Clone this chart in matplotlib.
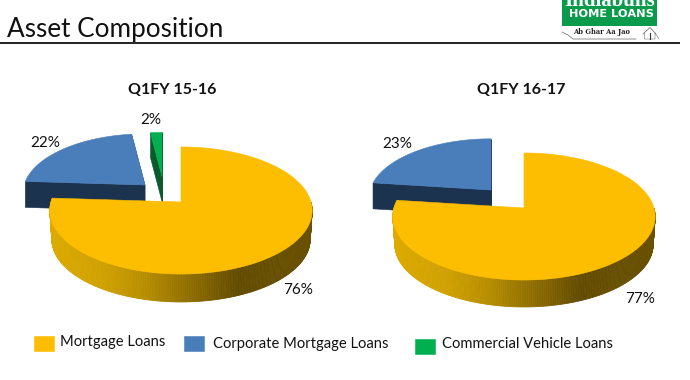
import numpy as np
import matplotlib
matplotlib.use("Agg")
import matplotlib.pyplot as plt
from matplotlib.patches import Rectangle, Polygon
from matplotlib.colors import LinearSegmentedColormap

plt.rcParams['font.family'] = ['Lato', 'DejaVu Sans']

categories = ["Mortgage Loans", "Corporate Mortgage Loans", "Commercial Vehicle Loans"]
period_titles = ["Q1FY 15-16", "Q1FY 16-17"]
values_q1_1516 = [76, 22, 2]
values_q1_1617 = [77, 23, 0]
chart_title = "Asset Composition"

YEL, BLU, GRN = "#FDBD00", "#4A7EBB", "#00B050"
BLU_D, GRN_D = "#1C3350", "#0B5A2C"
side_cmap = LinearSegmentedColormap.from_list("side", [
    (0.00, "#DCAA00"), (0.20, "#CFA000"), (0.35, "#B98F00"),
    (0.60, "#7F6100"), (0.72, "#624B00"), (1.00, "#6A5100")])

fig = plt.figure(figsize=(6.9, 3.8), dpi=100)
ax = fig.add_axes([0, 0, 1, 1])
ax.set_xlim(0, 690)
ax.set_ylim(380, 0)
ax.axis("off")

RX, RY, K = 130.0, 62.4, 0.134


def rim(theta):
    X, Y = np.sin(theta), np.cos(theta)
    w = 1 + K * Y
    return RX * X / w, -RY * Y / w


def wedge(ax0, ay0, t0, t1, scale=1.0):
    th = np.linspace(t0, t1, 120)
    x, y = rim(th)
    return ax0 + scale * x, ay0 + scale * y


def exploded(ax0, ay0, t0, t1, depth, top, dark, z, scale):
    x, y = wedge(ax0, ay0, t0, t1, scale)
    for px, py in ((x[0], y[0]), (x[-1], y[-1])):
        sx = np.r_[ax0, px]
        sy = np.r_[ay0, py]
        ax.add_patch(Polygon(np.c_[np.r_[sx, sx[::-1]],
                                   np.r_[sy, sy[::-1] + depth]],
                             fc=dark, ec=dark, lw=0.4, zorder=z))
    ax.add_patch(Polygon(np.c_[np.r_[ax0, x], np.r_[ay0, y]],
                         fc=top, ec=top, lw=0.4, zorder=z + 1))


def pie(values, cx, cy, depth, apexes):
    total = sum(values)
    fr = np.cumsum([0] + list(values)) / total * 2 * np.pi
    exploded(*apexes[0], fr[1], fr[2], 26, BLU, BLU_D, 2, 0.93)
    if values[2] > 0:
        exploded(*apexes[1], fr[2], fr[3], 25, GRN, GRN_D, 4, 0.8)
    th = np.linspace(np.pi * 0.5, fr[1], 260)
    for a, b in zip(th[:-1], th[1:]):
        xa, ya = rim(np.array([a, b]))
        xb, yb = xa * 0.985, ya * 0.985 + depth
        c = side_cmap(np.clip((xa.mean() + RX) / (2 * RX), 0, 1))
        ax.add_patch(Polygon(np.c_[cx + np.r_[xa, xb[::-1]],
                                   cy + np.r_[ya, yb[::-1]]],
                             fc=c, ec=c, lw=0.5, zorder=6))
    x, y = wedge(cx, cy, 0, fr[1])
    ax.add_patch(Polygon(np.c_[np.r_[cx, x], np.r_[cy, y]],
                         fc=YEL, ec=YEL, lw=0.4, zorder=8))


pie(values_q1_1516, 181, 202, 29, [(145, 185), (162, 176.5)])
pie(values_q1_1617, 524, 208, 28, [(491, 190)])

ax.text(172.5, 90.5, period_titles[0], fontsize=11.5, fontweight="bold", ha="center", va="center", color="#111111")
ax.text(521.5, 90.5, period_titles[1], fontsize=11.5, fontweight="bold", ha="center", va="center", color="#111111")

lab = dict(fontsize=11, ha="center", va="center", color="#111111", zorder=10)
ax.text(298.5, 290, f"{values_q1_1516[0]}%", **lab)
ax.text(45, 143, f"{values_q1_1516[1]}%", **lab)
ax.text(151, 120, f"{values_q1_1516[2]}%", **lab)
ax.text(640, 299, f"{values_q1_1617[0]}%", **lab)
ax.text(397, 144, f"{values_q1_1617[1]}%", **lab)

# Header
ax.text(7, 30, chart_title, fontsize=18.8, ha="left", va="center", color="#111111")
ax.plot([0, 680], [43.3, 43.3], color="#111111", lw=1.3, solid_capstyle="butt")

# Logo
ax.add_patch(Rectangle((562, 0), 95, 25.5, fc="#0A9A4B", ec="none"))
ax.text(609.5, 0.5, "Indiabulls", fontsize=15, fontweight="bold", family="Liberation Serif",
        color="white", ha="center", va="center")
ax.text(611.5, 14, "HOME LOANS", fontsize=8.2, fontweight="bold", family="DejaVu Sans",
        color="white", ha="center", va="center")
ax.text(601.5, 32.5, "Ab Ghar Aa Jao", fontsize=4.9, fontweight="bold", family="DejaVu Serif",
        color="#222222", ha="center", va="center")
ax.plot([562, 568, 573, 636], [32, 35, 39, 39], color="#666666", lw=0.5)
ax.plot([643, 650, 656], [34, 27.5, 34], color="#666666", lw=0.5)
ax.plot([644.5, 644.5, 655, 655, 659], [33, 39, 39, 33, 39], color="#777777", lw=0.4)
ax.plot([650, 650], [33, 39], color="#333333", lw=0.8)

# Legend
legend_colors = [YEL, BLU, GRN]
legend_boxes = [(34, 336), (184, 335.7), (414.5, 338.5)]
legend_texts = [(60.5, 342), (213, 344), (442, 344)]
for name, col, b, t in zip(categories, legend_colors, legend_boxes, legend_texts):
    ax.add_patch(Rectangle(b, 20, 15, fc=col, ec=col, lw=0.4))
    ax.text(t[0], t[1], name, fontsize=10.6, ha="left", va="center", color="#111111")

fig.savefig("out.png", dpi=100)
